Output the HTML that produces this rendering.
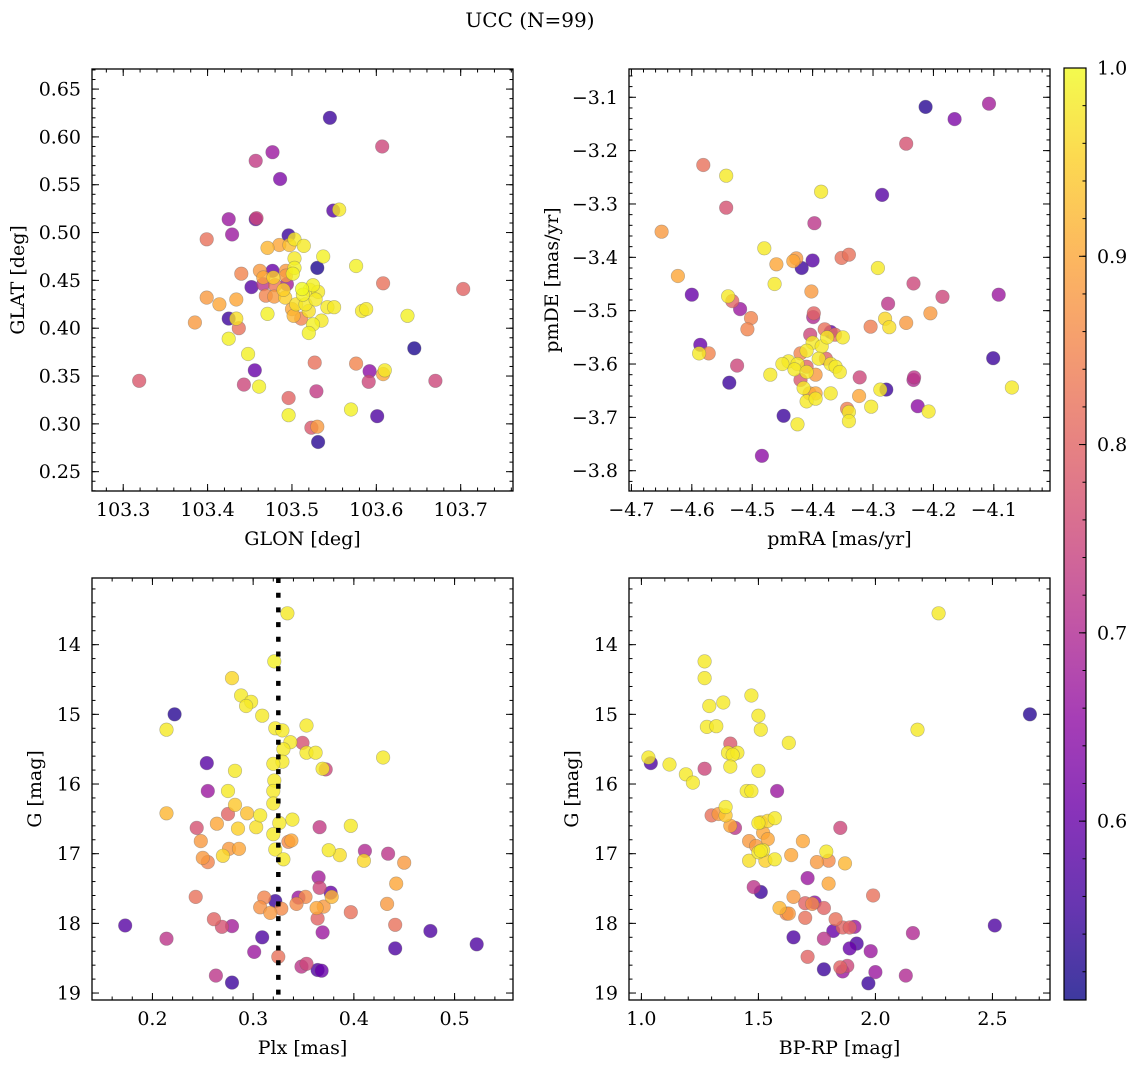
<!DOCTYPE html>
<html><head><meta charset="utf-8"><title>UCC (N=99)</title>
<style>
html,body{margin:0;padding:0;background:#fff;}
svg{display:block;font-family:"DejaVu Serif","Liberation Serif",serif;}
</style></head>
<body>
<svg id="chart" width="1136" height="1068" viewBox="0 0 1136 1068" xmlns="http://www.w3.org/2000/svg">
<text x="530" y="27" font-size="20" text-anchor="middle">UCC (N=99)</text>
</svg>
<script>
// ---- Panel 1: GLON vs GLAT ----
const p1Glon=[103.545,103.607,103.457,103.477,103.486,103.425,103.457,103.458,103.429,103.399,103.549,103.556,103.496,103.503,103.485,103.497,103.514,103.471,103.503,103.537,103.530,103.576,103.503,103.440,103.462,103.477,103.493,103.466,103.478,103.493,103.501,103.608,103.466,103.494,103.452,103.512,103.521,103.531,103.703,103.469,103.479,103.492,103.399,103.414,103.434,103.505,103.516,103.528,103.542,103.583,103.588,103.550,103.637,103.471,103.502,103.511,103.535,103.525,103.425,103.434,103.385,103.437,103.520,103.425,103.448,103.645,103.527,103.576,103.592,103.608,103.610,103.456,103.591,103.670,103.319,103.443,103.461,103.529,103.496,103.570,103.601,103.496,103.523,103.530,103.531,103.513,103.525,103.520,103.490,103.480,103.500];
const p1Glat=[0.620,0.590,0.575,0.584,0.556,0.514,0.514,0.515,0.498,0.493,0.523,0.524,0.497,0.493,0.487,0.487,0.486,0.484,0.473,0.475,0.463,0.465,0.463,0.457,0.460,0.460,0.460,0.453,0.453,0.455,0.457,0.447,0.446,0.446,0.443,0.441,0.440,0.438,0.441,0.434,0.433,0.432,0.432,0.425,0.430,0.425,0.425,0.430,0.422,0.418,0.420,0.422,0.413,0.415,0.413,0.410,0.408,0.404,0.410,0.410,0.406,0.400,0.395,0.389,0.373,0.379,0.364,0.363,0.355,0.352,0.356,0.356,0.344,0.345,0.345,0.341,0.339,0.334,0.327,0.315,0.308,0.309,0.296,0.297,0.281,0.435,0.445,0.418,0.440,0.445,0.420];
const p1Prob=[0.55,0.75,0.73,0.67,0.63,0.67,0.60,0.75,0.67,0.82,0.58,0.98,0.55,0.98,0.90,0.93,0.98,0.92,0.98,0.99,0.52,0.99,0.99,0.85,0.88,0.60,0.88,0.90,0.95,0.88,0.99,0.82,0.72,0.68,0.58,1.00,0.98,0.98,0.80,0.85,0.88,0.95,0.88,0.90,0.90,0.97,0.98,0.98,0.98,0.98,0.98,0.98,0.99,0.99,0.92,0.85,0.98,0.99,0.55,0.97,0.88,0.82,0.99,0.99,0.99,0.52,0.82,0.85,0.65,0.90,0.98,0.60,0.75,0.75,0.78,0.75,0.99,0.73,0.80,0.99,0.57,0.99,0.78,0.88,0.53,0.99,0.99,0.97,0.95,0.83,0.90];
const p1XTicks=["103.3","103.4","103.5","103.6","103.7"];
const p1YTicks=["0.25","0.30","0.35","0.40","0.45","0.50","0.55","0.60","0.65"];

// ---- Panel 2: pmRA vs pmDE ----
const p2Pmra=[-4.213,-4.165,-4.108,-4.245,-4.581,-4.543,-4.650,-4.543,-4.386,-4.285,-4.397,-4.480,-4.432,-4.427,-4.460,-4.418,-4.400,-4.352,-4.340,-4.292,-4.623,-4.463,-4.600,-4.540,-4.533,-4.520,-4.502,-4.508,-4.525,-4.402,-4.398,-4.399,-4.233,-4.185,-4.092,-4.205,-4.275,-4.280,-4.273,-4.304,-4.245,-4.586,-4.588,-4.572,-4.538,-4.470,-4.404,-4.400,-4.385,-4.376,-4.370,-4.380,-4.363,-4.350,-4.410,-4.420,-4.390,-4.378,-4.370,-4.440,-4.450,-4.425,-4.430,-4.410,-4.362,-4.355,-4.395,-4.410,-4.420,-4.415,-4.405,-4.410,-4.395,-4.370,-4.395,-4.425,-4.448,-4.484,-4.340,-4.340,-4.343,-4.322,-4.323,-4.303,-4.288,-4.278,-4.232,-4.233,-4.226,-4.208,-4.101,-4.070];
const p2Pmde=[-3.118,-3.141,-3.112,-3.187,-3.227,-3.247,-3.352,-3.307,-3.277,-3.283,-3.336,-3.383,-3.407,-3.402,-3.413,-3.420,-3.406,-3.401,-3.395,-3.420,-3.435,-3.450,-3.470,-3.473,-3.482,-3.497,-3.514,-3.535,-3.603,-3.464,-3.505,-3.512,-3.449,-3.474,-3.470,-3.505,-3.487,-3.515,-3.531,-3.530,-3.523,-3.564,-3.580,-3.580,-3.635,-3.620,-3.545,-3.560,-3.567,-3.550,-3.540,-3.535,-3.545,-3.550,-3.575,-3.580,-3.590,-3.590,-3.600,-3.595,-3.600,-3.600,-3.610,-3.605,-3.605,-3.615,-3.620,-3.615,-3.630,-3.645,-3.655,-3.670,-3.665,-3.655,-3.655,-3.713,-3.697,-3.772,-3.690,-3.707,-3.684,-3.625,-3.660,-3.680,-3.648,-3.648,-3.625,-3.630,-3.679,-3.689,-3.589,-3.644];
const p2Prob=[0.53,0.63,0.68,0.77,0.82,0.98,0.88,0.77,0.98,0.58,0.72,0.98,0.90,0.88,0.90,0.55,0.58,0.82,0.82,0.98,0.90,0.98,0.60,0.98,0.80,0.67,0.85,0.85,0.75,0.88,0.80,0.70,0.75,0.75,0.67,0.88,0.72,0.96,0.97,0.84,0.88,0.60,0.98,0.85,0.55,0.98,0.75,0.98,0.98,0.98,0.60,0.82,0.82,0.98,0.98,0.85,0.98,0.80,0.98,0.98,0.98,0.98,0.98,0.80,0.98,0.98,0.88,0.98,0.78,0.98,0.90,0.98,0.98,0.98,0.90,0.98,0.55,0.65,0.98,0.98,0.84,0.75,0.90,0.98,0.98,0.55,0.72,0.70,0.65,0.98,0.55,0.98];
const p2XTicks=["\u22124.7","\u22124.6","\u22124.5","\u22124.4","\u22124.3","\u22124.2","\u22124.1"];
const p2YTicks=["\u22123.8","\u22123.7","\u22123.6","\u22123.5","\u22123.4","\u22123.3","\u22123.2","\u22123.1"];

// ---- Panel 3: Plx vs G ----
const p3Plx=[0.334,0.321,0.279,0.288,0.298,0.293,0.309,0.222,0.214,0.322,0.329,0.353,0.337,0.349,0.330,0.353,0.362,0.329,0.320,0.369,0.372,0.254,0.429,0.282,0.321,0.255,0.275,0.320,0.320,0.282,0.294,0.307,0.339,0.214,0.275,0.244,0.264,0.285,0.303,0.326,0.320,0.335,0.338,0.397,0.366,0.248,0.276,0.286,0.322,0.330,0.270,0.375,0.386,0.434,0.450,0.250,0.255,0.410,0.411,0.442,0.365,0.366,0.377,0.433,0.352,0.378,0.343,0.363,0.370,0.345,0.328,0.311,0.322,0.307,0.317,0.243,0.397,0.364,0.261,0.269,0.279,0.441,0.173,0.214,0.309,0.369,0.476,0.522,0.441,0.301,0.325,0.353,0.348,0.364,0.368,0.263,0.279];
const p3G=[13.55,14.24,14.48,14.73,14.82,14.88,15.02,15.00,15.22,15.20,15.23,15.16,15.40,15.41,15.50,15.55,15.55,15.68,15.71,15.78,15.79,15.70,15.62,15.81,15.95,16.10,16.10,16.10,16.28,16.30,16.42,16.45,16.51,16.42,16.43,16.63,16.57,16.64,16.62,16.56,16.72,16.83,16.81,16.60,16.62,16.82,16.93,16.93,16.94,17.08,17.03,16.95,17.02,17.00,17.13,17.06,17.12,17.10,16.96,17.43,17.34,17.49,17.56,17.72,17.62,17.62,17.72,17.78,17.76,17.63,17.79,17.63,17.68,17.77,17.85,17.62,17.84,17.93,17.94,18.05,18.04,18.02,18.03,18.22,18.20,18.13,18.11,18.30,18.36,18.41,18.48,18.58,18.62,18.67,18.68,18.75,18.85];
const p3Prob=[0.98,0.99,0.96,0.98,0.98,0.98,0.98,0.53,0.98,0.98,0.98,0.98,0.98,0.77,0.98,0.98,0.98,0.98,0.98,0.98,0.75,0.58,0.98,0.98,0.98,0.67,0.98,0.98,0.98,0.94,0.93,0.98,0.98,0.92,0.80,0.77,0.90,0.95,0.97,0.98,0.98,0.86,0.90,0.98,0.73,0.88,0.88,0.90,0.98,0.98,0.96,0.98,0.97,0.72,0.88,0.88,0.85,0.96,0.70,0.90,0.68,0.75,0.60,0.88,0.86,0.92,0.86,0.90,0.88,0.67,0.86,0.85,0.55,0.87,0.88,0.82,0.82,0.80,0.80,0.77,0.68,0.82,0.58,0.72,0.57,0.67,0.57,0.57,0.57,0.67,0.82,0.75,0.72,0.57,0.60,0.72,0.55];
const p3PlxMean=[0.325];
const p3XTicks=["0.2","0.3","0.4","0.5"];
const gTicks=["14","15","16","17","18","19"];

// ---- Panel 4: BP-RP vs G ----
const p4Bprp=[2.27,1.27,1.27,1.47,1.29,1.35,1.50,1.51,1.28,1.32,2.18,2.66,1.63,1.38,1.03,1.04,1.12,1.37,1.41,1.39,1.27,1.38,1.19,1.22,1.50,1.58,1.45,1.47,1.36,1.36,1.30,1.33,1.38,1.40,1.50,1.51,1.54,1.57,1.52,1.54,1.85,1.46,1.49,1.52,1.50,1.51,1.46,1.53,1.57,1.69,1.64,1.75,1.80,1.79,1.87,1.71,1.65,1.63,1.70,1.78,1.80,1.51,1.48,1.59,1.62,1.74,1.73,1.70,1.83,1.99,1.86,1.89,1.91,1.82,2.16,2.51,1.65,1.78,1.89,1.92,1.98,1.71,1.88,1.85,1.86,1.78,2.00,2.13,1.97];
const p4G=[13.55,14.24,14.48,14.73,14.88,14.83,15.02,15.22,15.18,15.17,15.22,15.00,15.41,15.42,15.62,15.70,15.72,15.55,15.55,15.58,15.78,15.75,15.86,15.98,15.81,16.10,16.10,16.10,16.33,16.45,16.45,16.43,16.60,16.63,16.56,16.55,16.53,16.49,16.70,16.79,16.63,16.82,16.89,16.95,16.98,16.96,17.10,17.10,17.08,16.82,17.02,17.12,17.10,16.97,17.14,17.35,17.62,17.86,17.71,17.78,17.43,17.55,17.48,17.78,17.86,17.70,17.72,17.92,17.94,17.60,18.06,18.06,18.05,18.11,18.14,18.03,18.20,18.22,18.36,18.29,18.40,18.48,18.61,18.63,18.69,18.66,18.70,18.75,18.86];
const p4Prob=[0.98,0.98,0.98,0.98,0.98,0.98,0.98,0.98,0.98,0.98,0.98,0.53,0.98,0.78,0.98,0.57,0.98,0.98,0.98,0.98,0.75,0.98,0.98,0.98,0.98,0.67,0.98,0.98,0.98,0.94,0.82,0.88,0.90,0.72,0.98,0.95,0.96,0.98,0.90,0.90,0.75,0.88,0.88,0.98,0.98,0.98,0.97,0.95,0.98,0.90,0.90,0.88,0.86,0.98,0.92,0.67,0.88,0.88,0.80,0.80,0.90,0.55,0.72,0.92,0.85,0.65,0.86,0.82,0.82,0.82,0.80,0.80,0.67,0.60,0.70,0.57,0.57,0.72,0.60,0.57,0.67,0.80,0.75,0.80,0.67,0.55,0.67,0.70,0.55];
const p4XTicks=["1.0","1.5","2.0","2.5"];

// ---- Colorbar ----
const cbTicks=["0.6","0.7","0.8","0.9","1.0"];
const cbMin=[0.505];
const cbMax=[1.0];

const NS="http://www.w3.org/2000/svg";
const svg=document.getElementById('chart');
const FS=19;
function mk(tag,attrs,parent){const e=document.createElementNS(NS,tag);for(const k in attrs)e.setAttribute(k,attrs[k]);(parent||svg).appendChild(e);return e;}

const plasmaStops=["#0d0887","#41049d","#6a00a8","#8f0da4","#b12a90","#cc4778","#e16462","#f2844b","#fca636","#fcce25","#f0f921"];
function hex(h){return [parseInt(h.substr(1,2),16),parseInt(h.substr(3,2),16),parseInt(h.substr(5,2),16)];}
function plasma(t){t=Math.max(0,Math.min(1,t));const f=t*10;const i=Math.min(9,Math.floor(f));const u=f-i;const a=hex(plasmaStops[i]),b=hex(plasmaStops[i+1]);return `rgb(${Math.round(a[0]+(b[0]-a[0])*u)},${Math.round(a[1]+(b[1]-a[1])*u)},${Math.round(a[2]+(b[2]-a[2])*u)})`;}
function probColor(p){return plasma((p-cbMin[0])/(cbMax[0]-cbMin[0]));}

function linScale(d0,d1,r0,r1){return v=>r0+(v-d0)/(d1-d0)*(r1-r0);}

function makePanel(cfg){
  const g=mk('g',{});
  
  
  const L=cfg.left,T=cfg.top,W=cfg.w,H=cfg.h;
  const sx=linScale(cfg.xd[0],cfg.xd[1],L,L+W);
  const sy=cfg.yInv?linScale(cfg.yd[0],cfg.yd[1],T,T+H):linScale(cfg.yd[0],cfg.yd[1],T+H,T);
  const clipId='clip-'+cfg.name;
  const cp=mk('clipPath',{id:clipId},g);mk('rect',{x:L,y:T,width:W,height:H},cp);
  const n=Math.min(cfg.xs.length,cfg.ys.length,cfg.ps.length);
  const idx=[];for(let i=0;i<n;i++)idx.push(i);
  idx.sort((a,b)=>cfg.ps[a]-cfg.ps[b]);
  const pg=mk('g',{'clip-path':`url(#${clipId})`},g);
  
  
  idx.forEach(i=>{
    const c=mk('circle',{cx:sx(cfg.xs[i]).toFixed(1),cy:sy(cfg.ys[i]).toFixed(1),r:6.8,fill:probColor(cfg.ps[i]),'fill-opacity':0.8,stroke:'#666','stroke-opacity':0.45,'stroke-width':0.6},pg);
    
    
  });
  if(cfg.vline){
    const vl=mk('line',{x1:sx(cfg.vline),x2:sx(cfg.vline),y1:T,y2:T+H,stroke:'#000','stroke-width':4.5,'stroke-dasharray':'5 9.7'},g);
    
    
  }
  mk('rect',{x:L,y:T,width:W,height:H,fill:'none',stroke:'#000','stroke-width':1.3},g);
  const tg=mk('g',{stroke:'#000','stroke-width':1},g);
  function ticksX(vals,len){vals.forEach(v=>{const x=sx(v);if(x<L-0.5||x>L+W+0.5)return;mk('line',{x1:x,x2:x,y1:T+H,y2:T+H-len},tg);mk('line',{x1:x,x2:x,y1:T,y2:T+len},tg);});}
  function ticksY(vals,len){vals.forEach(v=>{const y=sy(v);if(y<T-0.5||y>T+H+0.5)return;mk('line',{x1:L,x2:L+len,y1:y,y2:y},tg);mk('line',{x1:L+W,x2:L+W-len,y1:y,y2:y},tg);});}
  const mx=[];for(let v=Math.ceil(Math.min(...cfg.xd)/cfg.xMinor-1e-6)*cfg.xMinor;v<=Math.max(...cfg.xd)+1e-9;v+=cfg.xMinor)mx.push(v);
  const my=[];for(let v=Math.ceil(Math.min(...cfg.yd)/cfg.yMinor-1e-6)*cfg.yMinor;v<=Math.max(...cfg.yd)+1e-9;v+=cfg.yMinor)my.push(v);
  ticksX(mx,3.5);ticksY(my,3.5);
  const MX=cfg.xTicks.map(t=>parseFloat(t.replace('\u2212','-')));
  const MY=cfg.yTicks.map(t=>parseFloat(t.replace('\u2212','-')));
  ticksX(MX,7);ticksY(MY,7);
  cfg.xTicks.forEach((t,i)=>{const tx=mk('text',{x:sx(MX[i]),y:T+H+25,'font-size':FS,'text-anchor':'middle'},g);tx.textContent=t;});
  cfg.yTicks.forEach((t,i)=>{const tx=mk('text',{x:L-11,y:sy(MY[i])+6.5,'font-size':FS,'text-anchor':'end'},g);tx.textContent=t;});
  const xl=mk('text',{x:L+W/2,y:T+H+54,'font-size':FS,'text-anchor':'middle'},g);xl.textContent=cfg.xLabel;
  
  const yl=mk('text',{x:0,y:0,'font-size':FS,'text-anchor':'middle',transform:`translate(${cfg.yLabelX},${T+H/2}) rotate(-90)`},g);yl.textContent=cfg.yLabel;
  
}

makePanel({name:'glon-glat-panel',left:92,top:69,w:421,h:422,xd:[103.263,103.762],yd:[0.2298,0.671],xs:p1Glon,ys:p1Glat,ps:p1Prob,xTicks:p1XTicks,yTicks:p1YTicks,xMinor:0.02,yMinor:0.01,xLabel:'GLON [deg]',yLabel:'GLAT [deg]',yLabelX:24});
makePanel({name:'pm-panel',left:629,top:69,w:421,h:422,xd:[-4.704,-4.007],yd:[-3.838,-3.047],xs:p2Pmra,ys:p2Pmde,ps:p2Prob,xTicks:p2XTicks,yTicks:p2YTicks,xMinor:0.02,yMinor:0.02,xLabel:'pmRA [mas/yr]',yLabel:'pmDE [mas/yr]',yLabelX:558});
makePanel({name:'plx-g-panel',left:92,top:578,w:421,h:422,xd:[0.140,0.558],yd:[13.043,19.10],yInv:true,xs:p3Plx,ys:p3G,ps:p3Prob,xTicks:p3XTicks,yTicks:gTicks,xMinor:0.02,yMinor:0.2,xLabel:'Plx [mas]',yLabel:'G [mag]',yLabelX:41,vline:p3PlxMean[0]});
makePanel({name:'cmd-panel',left:629,top:578,w:421,h:422,xd:[0.947,2.746],yd:[13.043,19.10],yInv:true,xs:p4Bprp,ys:p4G,ps:p4Prob,xTicks:p4XTicks,yTicks:gTicks,xMinor:0.1,yMinor:0.2,xLabel:'BP-RP [mag]',yLabel:'G [mag]',yLabelX:578});

(function(){
  const L=1064,T=68,W=22,H=932;
  const g=mk('g',{});
  
  
  const defs=mk('defs',{},g);
  const lg=mk('linearGradient',{id:'plasmaGrad',x1:0,y1:1,x2:0,y2:0},defs);
  for(let i=0;i<=20;i++){mk('stop',{offset:(i/20),'stop-color':plasma(i/20)},lg);}
  mk('rect',{x:L,y:T,width:W,height:H,fill:'url(#plasmaGrad)','fill-opacity':0.8},g);
  mk('rect',{x:L,y:T,width:W,height:H,fill:'none',stroke:'#000','stroke-width':1.2},g);
  const sy=linScale(cbMin[0],cbMax[0],T+H,T);
  for(let v=0.52;v<=1.0001;v+=0.02){mk('line',{x1:L+W,x2:L+W-3.5,y1:sy(v),y2:sy(v),stroke:'#000'},g);}
  cbTicks.forEach(t=>{const v=parseFloat(t);mk('line',{x1:L+W,x2:L+W-7,y1:sy(v),y2:sy(v),stroke:'#000'},g);
    const tx=mk('text',{x:L+W+11,y:sy(v)+6.5,'font-size':FS},g);tx.textContent=t;
    
    });
})();
</script>
</body></html>
